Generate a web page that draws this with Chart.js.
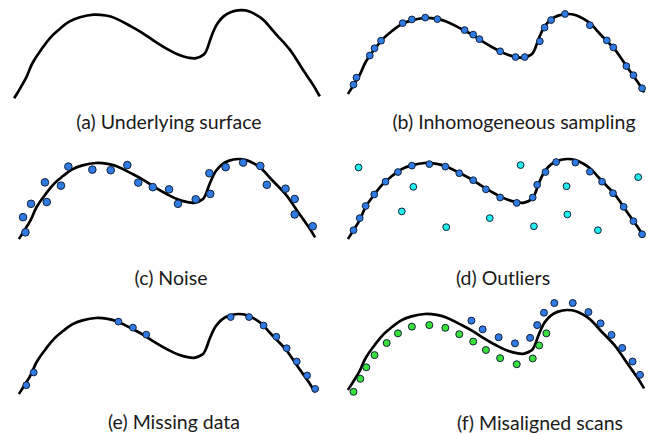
<!DOCTYPE html>
<html>
<head>
<meta charset="utf-8">
<script src="https://cdn.jsdelivr.net/npm/chart.js@4.4.1/dist/chart.umd.min.js"></script>
<style>
  html, body { margin: 0; padding: 0; background: #fff; overflow: hidden; }
  body { width: 656px; height: 434px; position: relative; }
  canvas { position: absolute; }
  .cap {
    position: absolute; width: 300px; text-align: center;
    font-family: Lato, "Open Sans", sans-serif; font-size: 19.5px;
    line-height: 22px; color: #1a1a1a; white-space: nowrap;
  }
</style>
</head>
<body>
<script>
// underlying surface, x 0..100 left to right, y 0..100 bottom to top
const surfaceX = [0, 2, 4, 6, 9, 12, 15, 18, 21.5, 26, 30, 33, 38, 42, 46, 50, 54, 57, 59.5, 62, 63, 64, 65.2, 66.5, 68.5, 71, 74, 77, 80, 82, 84, 86, 88, 90, 92, 94, 96, 98, 100];
const surfaceY = [0, 11.5, 24, 40, 56, 69.5, 79, 87, 92, 95, 94, 91, 82, 74, 64.5, 56, 49, 46, 45.5, 49.5, 55, 65, 76, 85, 93, 98, 100, 98.5, 93, 87.5, 79.5, 71.5, 64, 56, 46, 35, 24.5, 14, 2];

// (b) inhomogeneous sampling
const sampleX = [1.9, 2.9, 7.4, 9.0, 11.2, 18.5, 21.6, 26.1, 30.2, 39.4, 42.3, 44.4, 51.4, 56.6, 59.7, 64.8, 66.4, 68.6, 73.3, 81.7, 87.4, 89.6, 94.0, 96.4, 99.3];
const sampleY = [11.7, 20.5, 48.1, 57.2, 66.7, 88.6, 93.2, 95.5, 93.6, 79.9, 74.2, 68.6, 53.4, 46.2, 46.2, 65.9, 83.0, 92.4, 100, 86.0, 67.0, 58.3, 34.9, 23.5, 7.2];

// (c) noise
const noiseX = [2.2, 1.4, 4.1, 9.4, 8.8, 14.2, 16.7, 24.8, 31.0, 36.6, 40.3, 45.2, 50.7, 53.7, 59.7, 64.6, 64.3, 69.8, 75.7, 81.5, 83.7, 90.0, 93.1, 93.1, 99.2];
const noiseY = [8.3, 27.3, 44.0, 46.2, 70.8, 66.7, 90.5, 86.7, 86.0, 92.4, 70.5, 64.8, 62.1, 44.0, 49.6, 56.4, 82.2, 89.8, 95.5, 91.3, 67.8, 62.9, 50.0, 30.7, 15.9];

// (d) regular samples and outliers
const regularX = [1.9, 4.0, 6.0, 8.9, 12.7, 16.9, 21.6, 27.5, 32.9, 37.6, 42.3, 46.6, 51.4, 57.0, 62.4, 63.9, 66.7, 70.3, 76.8, 81.7, 85.8, 89.5, 93.1, 96.4, 99.3];
const regularY = [11.0, 26.1, 41.3, 55.7, 71.6, 83.7, 91.7, 93.6, 90.5, 82.2, 73.5, 62.1, 51.9, 45.1, 51.9, 67.8, 83.7, 96.2, 95.5, 84.1, 71.6, 57.2, 40.1, 22.3, 6.0];
const outlierX = [3.6, 22.1, 18.2, 33.2, 47.9, 58.3, 62.8, 73.8, 74.1, 84.4, 98.0];
const outlierY = [89.4, 65.2, 34.5, 14.8, 26.1, 92.4, 15.9, 65.9, 30.7, 11.0, 77.3];

// (e) missing data
const partialX = [2.5, 5.0, 33.6, 38.5, 43.0, 71.5, 77.7, 82.6, 86.9, 90.4, 93.8, 97.3, 100];
const partialY = [11.0, 26.9, 90.5, 83.0, 74.2, 96.2, 96.2, 85.6, 71.6, 57.2, 40.6, 23.1, 6.4];

// (f) two misaligned scans
const scanAX = [1.9, 4.2, 6.2, 9.0, 13.1, 16.9, 21.6, 27.5, 32.9, 37.6, 42.3, 46.6, 51.4, 57.0, 62.4, 64.6, 67.0];
const scanAY = [-2.3, 14.0, 28.4, 43.6, 58.7, 70.8, 79.2, 81.1, 77.7, 69.7, 60.6, 50.0, 39.8, 32.2, 39.4, 55.7, 70.8];
const scanBX = [41.7, 45.5, 50.9, 56.4, 61.5, 63.9, 66.2, 69.7, 75.9, 81.2, 85.3, 89.0, 92.6, 96.1, 98.6];
const scanBY = [86.7, 75.8, 65.9, 58.3, 65.2, 81.1, 96.6, 108.7, 108.7, 97.4, 83.3, 68.9, 52.6, 35.6, 19.0];

const captions = [
  '(a) Underlying surface',
  '(b) Inhomogeneous sampling',
  '(c) Noise',
  '(d) Outliers',
  '(e) Missing data',
  '(f) Misaligned scans'
];

const BLUE = '#2f7be3';
const CYAN = '#22eeee';
const GREEN = '#3ae03a';

const zip = (xs, ys) => xs.map((x, i) => ({ x, y: ys[i] }));

const surface = () => ({
  data: zip(surfaceX, surfaceY),
  showLine: true,
  borderColor: '#000',
  borderWidth: 2.7,
  pointRadius: 0,
  tension: 0.4,
  clip: false,
  order: 2
});

const dots = (xs, ys, color, r) => ({
  data: zip(xs, ys),
  showLine: false,
  pointRadius: r || 3.4,
  pointBackgroundColor: color,
  pointBorderColor: '#10203a',
  pointBorderWidth: 1,
  clip: false,
  order: 1
});

// where data (0,0) sits on the page for each panel; 100 units = 306 x 88 px
const panels = [
  { left: 14, top: 10, cap: [169, 122], sets: [surface()] },
  { left: 343, top: 10, cap: [514, 122], sets: [surface(), dots(sampleX, sampleY, BLUE)] },
  { left: 14, top: 155, cap: [171, 278], sets: [surface(), dots(noiseX, noiseY, BLUE, 3.8)] },
  { left: 343, top: 155, cap: [503, 278], sets: [surface(), dots(regularX, regularY, BLUE), dots(outlierX, outlierY, CYAN)] },
  { left: 14, top: 310, cap: [174, 422], sets: [surface(), dots(partialX, partialY, BLUE)] },
  { left: 343, top: 306, cap: [540, 423], sets: [surface(), dots(scanAX, scanAY, GREEN, 3.5), dots(scanBX, scanBY, BLUE, 3.5)] }
];

// scale range a bit wider than the surface so off-curve dots stay inside
const X_MIN = -3, X_MAX = 103, Y_MIN = -10, Y_MAX = 115;
const PX_X = 3.06, PX_Y = 0.88;

panels.forEach((p, i) => {
  const cv = document.createElement('canvas');
  cv.width = Math.round((X_MAX - X_MIN) * PX_X);
  cv.height = Math.round((Y_MAX - Y_MIN) * PX_Y);
  cv.style.left = Math.round(p.left + X_MIN * PX_X) + 'px';
  cv.style.top = Math.round(p.top - (Y_MAX - 100) * PX_Y) + 'px';
  document.body.appendChild(cv);

  new Chart(cv, {
    type: 'scatter',
    data: { datasets: p.sets },
    options: {
      responsive: false,
      animation: false,
      events: [],
      layout: { padding: 0 },
      plugins: { legend: { display: false }, tooltip: { enabled: false } },
      scales: {
        x: { type: 'linear', min: X_MIN, max: X_MAX, display: false },
        y: { type: 'linear', min: Y_MIN, max: Y_MAX, display: false }
      }
    }
  });

  const cap = document.createElement('div');
  cap.className = 'cap';
  cap.textContent = captions[i];
  cap.style.left = (p.cap[0] - 150) + 'px';
  cap.style.top = (p.cap[1] - 11) + 'px';
  document.body.appendChild(cap);
});
</script>
</body>
</html>
